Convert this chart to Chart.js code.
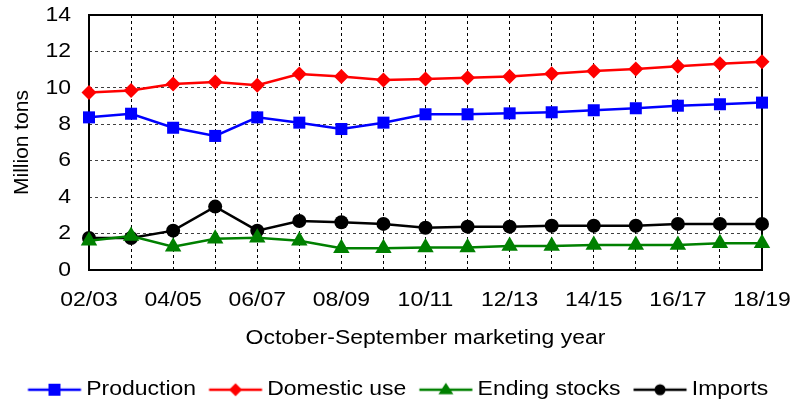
<!DOCTYPE html>
<html>
<head>
<meta charset="utf-8">
<script src="https://cdn.jsdelivr.net/npm/chart.js@4/dist/chart.umd.min.js"></script>
<style>
  html, body { margin: 0; padding: 0; background: #fff; }
</style>
</head>
<body>
<canvas id="chart" width="806" height="404"></canvas>
<script>
// ---------------- Data ----------------
const years = ['02/03', '03/04', '04/05', '05/06', '06/07', '07/08', '08/09', '09/10', '10/11',
  '11/12', '12/13', '13/14', '14/15', '15/16', '16/17', '17/18', '18/19'];
const production = [8.38, 8.58, 7.81, 7.36, 8.38, 8.09, 7.74, 8.09, 8.55, 8.55, 8.6, 8.66, 8.77, 8.88, 9.02, 9.1, 9.19];
const domesticUse = [9.74, 9.85, 10.21, 10.32, 10.14, 10.76, 10.62, 10.43, 10.49, 10.56, 10.62, 10.78, 10.93, 11.04, 11.18, 11.33, 11.44];
const endingStocks = [1.61, 1.87, 1.28, 1.72, 1.77, 1.61, 1.19, 1.19, 1.24, 1.24, 1.32, 1.32, 1.37, 1.37, 1.37, 1.47, 1.47];
const imports = [1.76, 1.76, 2.16, 3.48, 2.16, 2.69, 2.62, 2.53, 2.32, 2.38, 2.38, 2.43, 2.43, 2.43, 2.53, 2.53, 2.53];

const font = "'Liberation Sans', Arial, sans-serif";

// ---------------- Wide text ----------------
// the original picture is stretched sideways a bit; do the same for horizontal text
const canvas = document.getElementById('chart');
const ctx2d = canvas.getContext('2d');
const STRETCH = 1.12;
const baseFill = ctx2d.fillText.bind(ctx2d);
const baseMeasure = ctx2d.measureText.bind(ctx2d);
ctx2d.fillText = function (text, x, y, maxWidth) {
  const rotated = Math.abs(this.getTransform().b) > 1e-6;
  if (rotated) {
    if (maxWidth === undefined) baseFill(text, x, y);
    else baseFill(text, x, y, maxWidth);
    return;
  }
  this.save();
  this.translate(x, y);
  this.scale(STRETCH, 1);
  if (maxWidth === undefined) baseFill(text, 0, 0);
  else baseFill(text, 0, 0, maxWidth / STRETCH);
  this.restore();
};
ctx2d.measureText = function (text) {
  const m = baseMeasure(text);
  return {
    width: m.width * STRETCH,
    actualBoundingBoxAscent: m.actualBoundingBoxAscent,
    actualBoundingBoxDescent: m.actualBoundingBoxDescent,
    actualBoundingBoxLeft: m.actualBoundingBoxLeft * STRETCH,
    actualBoundingBoxRight: m.actualBoundingBoxRight * STRETCH
  };
};

// ---------------- Legend icons (line + marker) ----------------
function legendIcon(color, shape) {
  const c = document.createElement('canvas');
  c.width = 80; c.height = 20;
  const g = c.getContext('2d');
  g.strokeStyle = color; g.fillStyle = color; g.lineWidth = 2.5;
  g.beginPath(); g.moveTo(22.5, 10); g.lineTo(75.5, 10); g.stroke();
  const x = 49, y = 10;
  g.beginPath();
  if (shape === 'rect') {
    g.rect(x - 6, y - 6, 12, 12);
  } else if (shape === 'diamond') {
    g.moveTo(x, y - 6.5); g.lineTo(x + 6.5, y); g.lineTo(x, y + 6.5); g.lineTo(x - 6.5, y); g.closePath();
  } else if (shape === 'triangle') {
    g.moveTo(x, y - 7); g.lineTo(x + 7.5, y + 4.5); g.lineTo(x - 7.5, y + 4.5); g.closePath();
  } else {
    g.arc(x, y, 5.5, 0, Math.PI * 2);
  }
  g.fill();
  return c;
}
const legendIcons = [
  legendIcon('#0000ff', 'rect'),
  legendIcon('#ff0000', 'diamond'),
  legendIcon('#008000', 'triangle'),
  legendIcon('#000000', 'circle')
];

// plot frame drawn under the markers
const frame = {
  id: 'frame',
  beforeDatasetsDraw(chart) {
    const a = chart.chartArea, ctx = chart.ctx;
    ctx.save();
    ctx.strokeStyle = '#000';
    ctx.lineWidth = 2;
    ctx.strokeRect(a.left, a.top, a.right - a.left, a.bottom - a.top);
    ctx.restore();
  }
};

function series(label, data, color, style, radius) {
  return {
    label: label, data: data,
    borderColor: color, backgroundColor: color,
    borderWidth: 2.5, pointStyle: style, pointRadius: radius, pointHoverRadius: radius,
    pointBorderWidth: 0, tension: 0, clip: false
  };
}

Chart.defaults.font.family = font;
Chart.defaults.font.size = 20.5;
Chart.defaults.color = '#000';
Chart.defaults.animation = false;

new Chart(canvas, {
  type: 'line',
  data: {
    labels: years,
    datasets: [
      series('Production', production, '#0000ff', 'rect', 8.5),
      series('Domestic use', domesticUse, '#ff0000', 'rectRot', 7.5),
      series('Ending stocks', endingStocks, '#008000', 'triangle', 9.5),
      series('Imports', imports, '#000000', 'circle', 7)
    ]
  },
  plugins: [frame],
  options: {
    responsive: false,
    layout: { padding: { left: 15, right: 30, top: 15, bottom: -6 } },
    plugins: {
      tooltip: { enabled: false },
      legend: {
        position: 'bottom',
        align: 'start',
        labels: {
          usePointStyle: true,
          pointStyleWidth: 61,
          padding: 0,
          color: '#000',
          generateLabels: chart => Chart.defaults.plugins.legend.labels.generateLabels(chart)
            .map((l, i) => Object.assign(l, { pointStyle: legendIcons[i] }))
        }
      }
    },
    scales: {
      x: {
        offset: false,
        afterFit: s => { s.height = 109.5; },
        grid: { color: '#000', lineWidth: 1, drawTicks: true, tickLength: 14, tickColor: 'rgba(0,0,0,0)' },
        border: { display: false, dash: [3, 3] },
        ticks: {
          autoSkip: false, maxRotation: 0, padding: 4,
          callback: (v, i) => (i % 2 === 0 ? years[i] : '')
        },
        title: {
          display: true, text: 'October-September marketing year',
          padding: { top: 0, bottom: 29.2 }
        }
      },
      y: {
        min: 0, max: 14,
        afterFit: s => { s.width = 74; },
        grid: { color: 'rgba(0,0,0,0.75)', lineWidth: 1, drawTicks: true, tickLength: 16, tickColor: 'rgba(0,0,0,0)' },
        border: { display: false, dash: [3, 3] },
        ticks: { stepSize: 2, padding: 2 },
        title: {
          display: true, text: 'Million tons',
          font: { size: 21 },
          padding: { top: -5, bottom: 0 }
        }
      },
      // empty strip on the right so the legend row keeps its full width
      yRight: {
        position: 'right',
        afterFit: s => { s.width = 14; },
        grid: { display: false },
        border: { display: false },
        ticks: { display: false }
      }
    }
  }
});
</script>
</body>
</html>
